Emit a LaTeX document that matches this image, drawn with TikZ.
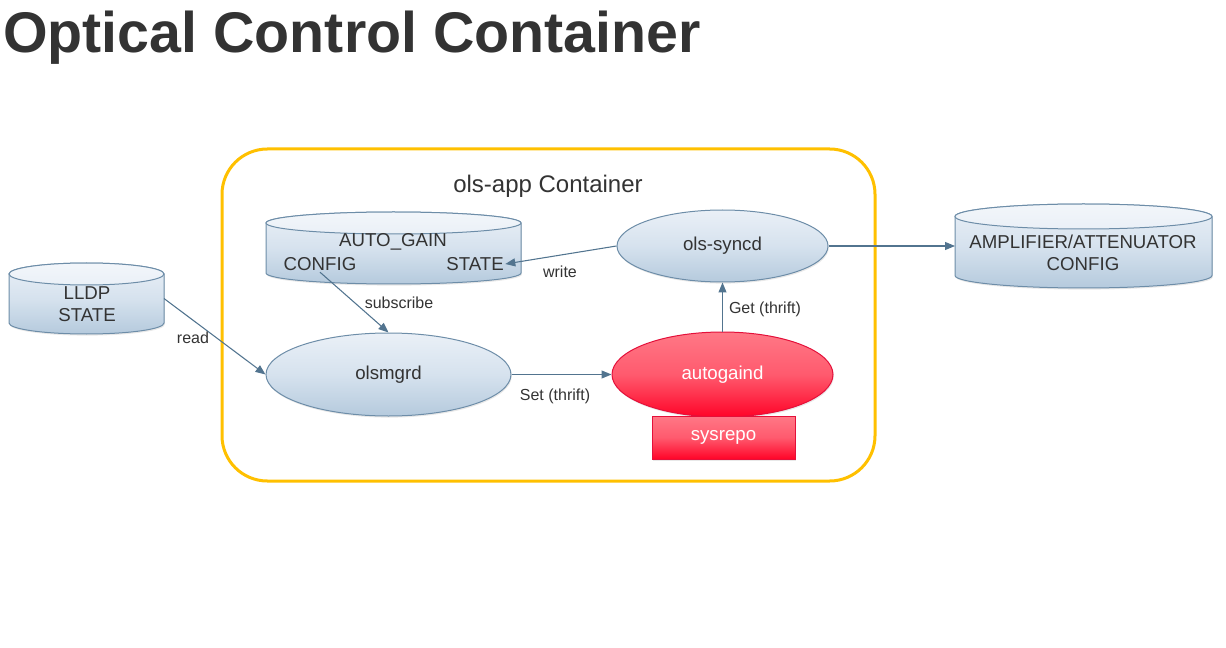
\documentclass[tikz,border=0pt]{standalone}
\usepackage{fontspec}
\setmainfont{Liberation Sans}
\usetikzlibrary{shapes.geometric,arrows.meta,shadows}
\definecolor{ttl}{HTML}{333333}
\definecolor{txt}{HTML}{333333}
\definecolor{bTop}{HTML}{EAF0F7}
\definecolor{bMid}{HTML}{D6E2EE}
\definecolor{bBot}{HTML}{B5CADD}
\definecolor{bLine}{HTML}{6D8DA8}
\definecolor{rTop}{HTML}{FF7886}
\definecolor{rMid}{HTML}{FF5A6E}
\definecolor{rBot}{HTML}{FF0428}
\definecolor{rLine}{HTML}{E4103A}
\definecolor{cont}{HTML}{FFC000}
\definecolor{arr}{HTML}{52748F}
\newcommand\drawcyl[5]{%
  \pgfmathsetmacro\cylcx{(#1+#2)/2}%
  \pgfmathsetmacro\cylrx{(#2-#1)/2}%
  \path[draw=bLine, line width=0.75pt, top color=bTop, bottom color=bBot, middle color=bMid,
        drop shadow={opacity=0.18, shadow xshift=0.6pt, shadow yshift=-1.2pt}]
    (#1,#3+#5) -- (#1,#4-#5) arc[start angle=180, end angle=0, x radius=\cylrx, y radius=#5]
    -- (#2,#3+#5) arc[start angle=0, end angle=-180, x radius=\cylrx, y radius=#5] -- cycle;
  \path[draw=bLine, line width=0.75pt, top color=bTop!60!white, bottom color=bTop]
    (\cylcx,#3+#5) ellipse[x radius=\cylrx, y radius=#5];
}
\begin{document}
\begin{tikzpicture}[x=0.75pt,y=-0.75pt,
  bodyfont/.style={font=\fontsize{14}{16.5}\selectfont, text=txt},
  blueell/.style={ellipse, draw=bLine, line width=0.75pt, top color=bTop, bottom color=bBot,
    middle color=bMid, inner sep=0pt, bodyfont,
    drop shadow={opacity=0.18, shadow xshift=0.6pt, shadow yshift=-1.2pt}},
  redshape/.style={draw=rLine, line width=0.75pt, top color=rTop, bottom color=rBot,
    middle color=rMid, inner sep=0pt, text=white, font=\fontsize{14}{16.5}\selectfont,
    drop shadow={opacity=0.18, shadow xshift=0.6pt, shadow yshift=-1.2pt}},
  anchorbox/.style={inner sep=0pt, outer sep=0pt},
  conn/.style={draw=arr, line width=0.8pt, -{Triangle[length=7.5pt,width=6pt]}},
  lbl/.style={font=\fontsize{12}{14}\selectfont, text=txt, inner sep=0pt},
  celltext/.style={bodyfont, inner sep=1pt, align=center},
]
\useasboundingbox (0,0) rectangle (1226,648);

% title
\node[anchor=base west, inner sep=0pt, font=\bfseries\fontsize{43}{50}\selectfont, text=ttl]
  (title) at (3,53) {Optical Control Container};

% container
\node[draw=cont, line width=2.25pt, rounded corners=34pt, minimum width=489.75pt,
  minimum height=249pt, inner sep=0pt] (container) at (548.5,315) {};
\node[font=\fontsize{18}{21}\selectfont, text=txt, inner sep=0pt] (ctitle) at (548,186) {ols-app Container};

% cylinders
\drawcyl{9}{164}{263}{334}{11}
\node[anchorbox, minimum width=116.25pt, minimum height=53.25pt] (lldp) at (86.5,298.5) {};
\node[celltext] (lldptxt) at (87,304) {LLDP\\STATE};

\drawcyl{266}{521}{212}{284}{11}
\node[anchorbox, minimum width=191.25pt, minimum height=54pt] (autogain) at (393.5,248) {};
\node[celltext] (agtxt) at (393,242) {AUTO\_GAIN};
\node[celltext] (cfg) at (320,264) {CONFIG};
\node[celltext] (st) at (475,264) {STATE};

\drawcyl{955}{1212}{204}{288}{12.5}
\node[anchorbox, minimum width=192.75pt, minimum height=63pt] (amp) at (1083.5,246) {};
\node[celltext] (amptxt) at (1083,253) {AMPLIFIER/ATTENUATOR\\CONFIG};

% processes
\node[blueell, minimum width=183.75pt, minimum height=62.25pt] (olsmgrd) at (388.5,374.5) {olsmgrd};
\node[blueell, minimum width=158.25pt, minimum height=54pt] (syncd) at (722.5,246) {ols-syncd};
\node[redshape, ellipse, minimum width=165.75pt, minimum height=63.75pt] (autogaind) at (722.5,374.5) {autogaind};
\node[redshape, rectangle, minimum width=107.25pt, minimum height=32.25pt] (sysrepo) at (723.5,437.5) {sysrepo};

% connectors
\draw[conn] (lldp.east) -- (olsmgrd.west);
\draw[conn] (cfg.south) -- (olsmgrd.north);
\draw[conn] (syncd.west) -- (st.east);
\draw[conn] (olsmgrd.east) -- (autogaind.west);
\draw[conn] (autogaind.north) -- (syncd.south);
\draw[conn] (syncd.east) -- (amp.west);

% labels
\node[lbl] (lread) at (193,338) {read};
\node[lbl] (lsub) at (399,303) {subscribe};
\node[lbl] (lwrite) at (560,272) {write};
\node[lbl] (lset) at (555,396) {Set (thrift)};
\node[lbl] (lget) at (765,309) {Get (thrift)};
\end{tikzpicture}
\end{document}
